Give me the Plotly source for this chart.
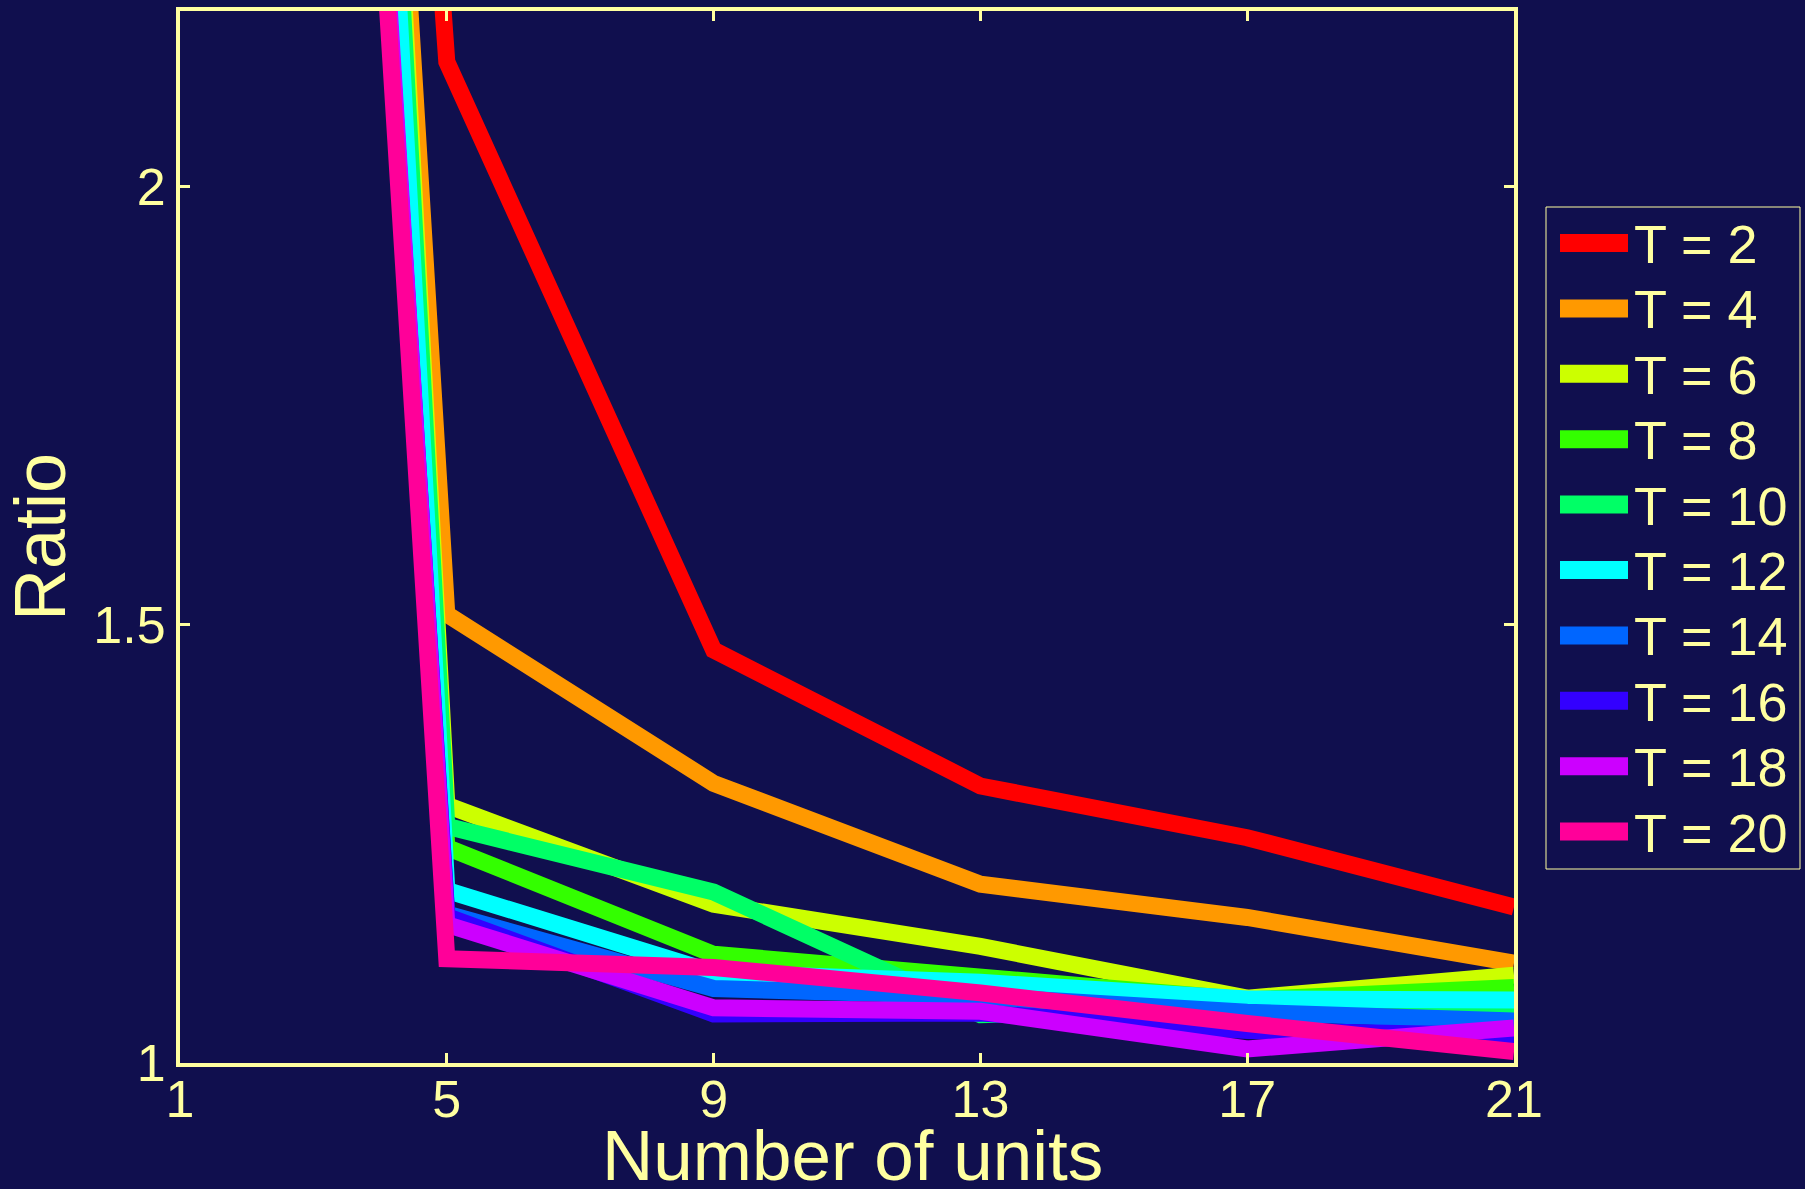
import plotly.graph_objects as go

units = [1, 5, 9, 13, 17, 21]
labels = ["T = 2", "T = 4", "T = 6", "T = 8", "T = 10", "T = 12", "T = 14", "T = 16", "T = 18", "T = 20"]
colors = ["#FF0000", "#FF9900", "#CCFF00", "#33FF00", "#00FF66",
          "#00FFFF", "#0066FF", "#3300FF", "#CC00FF", "#FF0099"]

t2 = [6.4, 2.142, 1.471, 1.316, 1.257, 1.178]
t4 = [6.5, 1.512, 1.319, 1.204, 1.166, 1.114]
t6 = [7.0, 1.294, 1.181, 1.133, 1.074, 1.100]
t8 = [6.9, 1.246, 1.124, 1.099, 1.072, 1.086]
t10 = [6.9, 1.270, 1.195, 1.055, 1.064, 1.057]
t12 = [6.8, 1.197, 1.103, 1.092, 1.073, 1.072]
t14 = [5.9, 1.170, 1.085, 1.076, 1.058, 1.048]
t16 = [5.9, 1.167, 1.056, 1.057, 1.037, 1.031]
t18 = [6.0, 1.158, 1.063, 1.059, 1.016, 1.040]
t20 = [6.0, 1.119, 1.109, 1.080, 1.045, 1.013]
series = [t2, t4, t6, t8, t10, t12, t14, t16, t18, t20]

x_ticks = [1, 5, 9, 13, 17, 21]
y_ticks = [1, 1.5, 2]
y_tick_text = ["1", "1.5", "2"]
x_title = "Number of units"
y_title = "Ratio"

BG = "#100F4E"
FG = "#FFFFA0"
FONT = "Liberation Sans, Arial, Helvetica, sans-serif"

W, H = 1805, 1189
L, R, T, B = 180, 1514, 11, 1063   # plot area edges in pixels


def px(x):
    return (x - L) / (R - L)


def py(y):
    return (B - y) / (B - T)


fig = go.Figure()
for lab, col, ys in zip(labels, colors, series):
    fig.add_trace(go.Scatter(x=units, y=ys, mode="lines", name=lab,
                             line=dict(color=col, width=17), showlegend=False))

# Legend drawn in MATLAB style (box, thick line samples, labels)
shapes = [dict(type="rect", xref="paper", yref="paper",
               x0=px(1546), x1=px(1800), y0=py(869), y1=py(207),
               line=dict(color=FG, width=1), fillcolor=BG, layer="above")]
annotations = []
for i, (lab, col) in enumerate(zip(labels, colors)):
    yc = 243 + i * 65.4
    shapes.append(dict(type="line", xref="paper", yref="paper",
                       x0=px(1560), x1=px(1628), y0=py(yc), y1=py(yc),
                       line=dict(color=col, width=18), layer="above"))
    annotations.append(dict(text=lab, xref="paper", yref="paper",
                            x=px(1632), y=py(yc + 1), xanchor="left", yanchor="middle",
                            showarrow=False,
                            font=dict(family=FONT, size=54, color=FG)))

# x-axis title placed like MATLAB's xlabel (close to the bottom edge)
annotations.append(dict(text=x_title, xref="paper", yref="paper",
                        x=px(853), y=py(1155), xanchor="center", yanchor="middle",
                        showarrow=False,
                        font=dict(family=FONT, size=71, color=FG)))

axis_common = dict(showgrid=False, zeroline=False, showline=True, linecolor=FG,
                   linewidth=4, mirror="ticks", ticks="inside", ticklen=10,
                   tickwidth=3, tickcolor=FG, automargin=False,
                   tickfont=dict(family=FONT, size=52, color=FG))

fig.update_layout(
    width=W, height=H,
    margin=dict(l=L, r=W - R, t=T, b=H - B),
    paper_bgcolor=BG, plot_bgcolor=BG,
    font=dict(family=FONT, color=FG),
    showlegend=False,
    shapes=shapes,
    annotations=annotations,
    xaxis=dict(range=[1, 21], tickvals=x_ticks, ticktext=[str(v) for v in x_ticks],
               ticklabelstandoff=-12,
               **axis_common),
    yaxis=dict(range=[1, 2.2], tickvals=y_ticks, ticktext=y_tick_text,
               title=dict(text=y_title, font=dict(family=FONT, size=72, color=FG),
                          standoff=7),
               **axis_common),
)

fig.write_html("out.html")
